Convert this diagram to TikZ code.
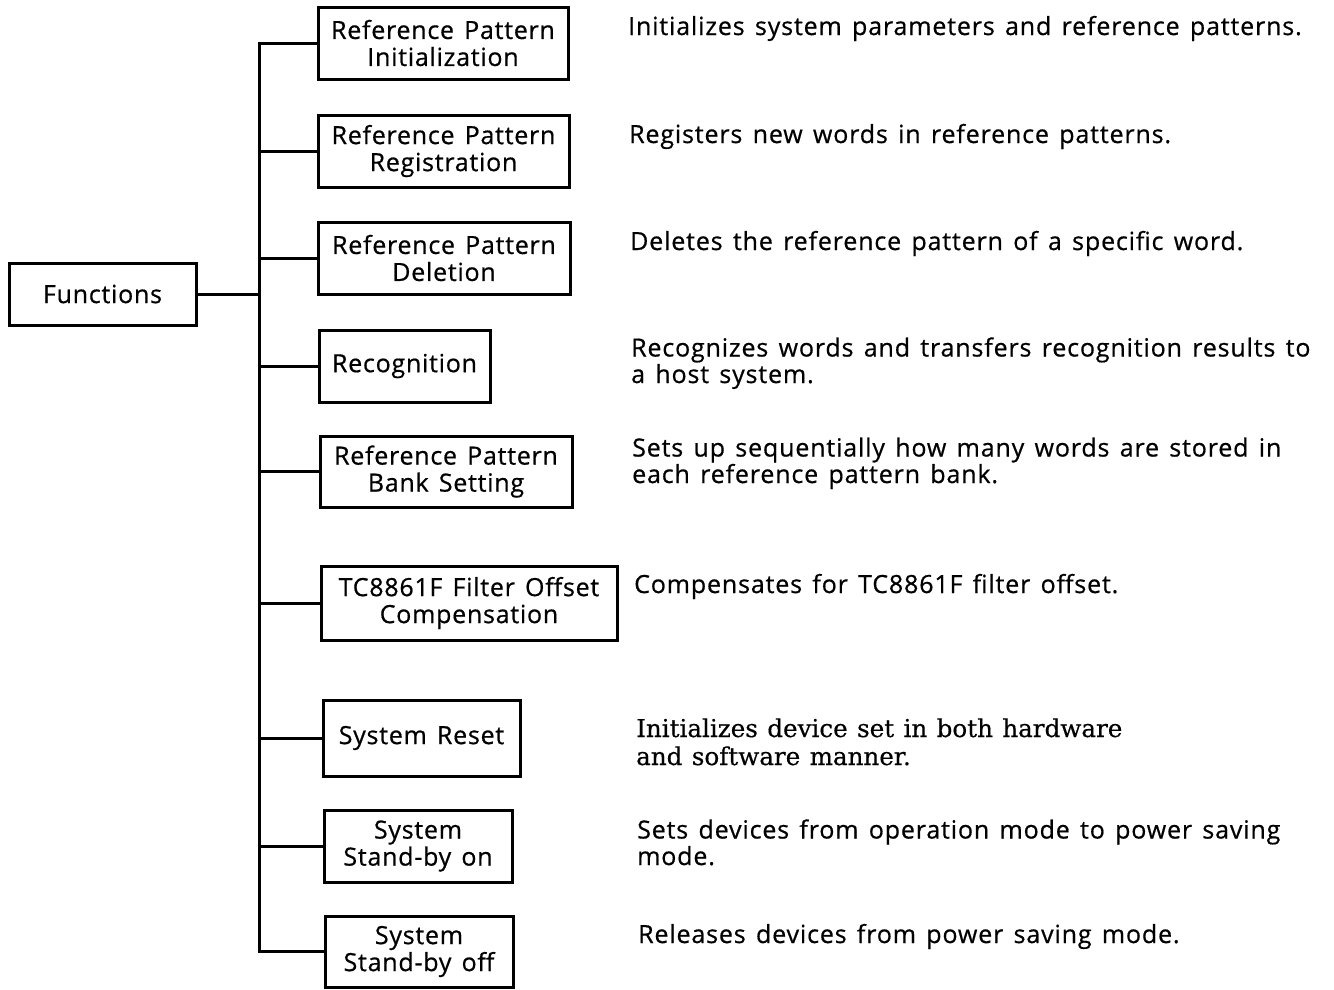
\documentclass[tikz,border=0pt]{standalone}
\usepackage{fontspec}
\newfontfamily\boxfont{Open Sans}[LetterSpace=3, WordSpace=1.4, FakeBold=0.6]
\newfontfamily\descfont{Open Sans}[LetterSpace=3.4, WordSpace=1.4, FakeBold=0.6]
\newfontfamily\descserif{DejaVu Serif}[WordSpace=1.2, FakeBold=0.4]
\begin{document}
\begin{tikzpicture}[x=1pt,y=-1pt,
  fbox/.style={draw, line width=3pt, align=center, inner sep=0pt, font=\boxfont\fontsize{25}{27}\selectfont},
  desc/.style={anchor=base west, align=left, inner sep=0pt, font=\descfont\fontsize{25}{26.5}\selectfont},
  sdesc/.style={anchor=base west, align=left, inner sep=0pt, font=\descserif\fontsize{24.6}{28}\selectfont},
  link/.style={line width=3pt, line join=miter}]
\useasboundingbox (0,0) rectangle (1334,989);

\node[fbox, minimum width=187pt, minimum height=62pt] (fn) at (102.5,294) {Functions};

\node[fbox, minimum width=250pt, minimum height=72pt] (b1) at (443,43) {Reference Pattern\\Initialization};
\node[fbox, minimum width=251pt, minimum height=72pt] (b2) at (443.5,151) {Reference Pattern\\Registration};
\node[fbox, minimum width=252pt, minimum height=72pt] (b3) at (444,258) {Reference Pattern\\Deletion};
\node[fbox, minimum width=171pt, minimum height=72pt] (b4) at (404.5,366) {Recognition};
\node[fbox, minimum width=252pt, minimum height=71pt] (b5) at (446,471.5) {Reference Pattern\\Bank Setting};
\node[fbox, minimum width=296pt, minimum height=74pt] (b6) at (469,603) {TC8861F Filter Offset\\Compensation};
\node[fbox, minimum width=197pt, minimum height=76pt] (b7) at (421.5,738) {System Reset};
\node[fbox, minimum width=188pt, minimum height=72pt] (b8) at (418,846) {System\\Stand-by on};
\node[fbox, minimum width=188pt, minimum height=71pt] (b9) at (419,951.5) {System\\Stand-by off};

\coordinate (trunk) at (259,0);
\draw[link] (b1.west) -- (b1.west -| trunk) -- (b9.west -| trunk) -- (b9.west);
\foreach \b in {b2,b3,b4,b5,b6,b7,b8}
  \draw[link] (\b.west) -- (\b.west -| trunk);
\draw[link] (fn.east) -- (fn.east -| trunk);

\node[desc] (d1) at (628,35) {Initializes system parameters and reference patterns.};
\node[desc] (d2) at (629,143) {Registers new words in reference patterns.};
\node[desc] (d3) at (630,250) {Deletes the reference pattern of a specific word.};
\node[desc] (d4) at (631,383) {Recognizes words and transfers recognition results to\\a host system.};
\node[desc] (d5) at (632,483) {Sets up sequentially how many words are stored in\\each reference pattern bank.};
\node[desc] (d6) at (634,593) {Compensates for TC8861F filter offset.};
\node[sdesc] (d7) at (636,765) {Initializes device set in both hardware\\and software manner.};
\node[desc] (d8) at (637,865) {Sets devices from operation mode to power saving\\mode.};
\node[desc] (d9) at (638,943) {Releases devices from power saving mode.};
\end{tikzpicture}
\end{document}
